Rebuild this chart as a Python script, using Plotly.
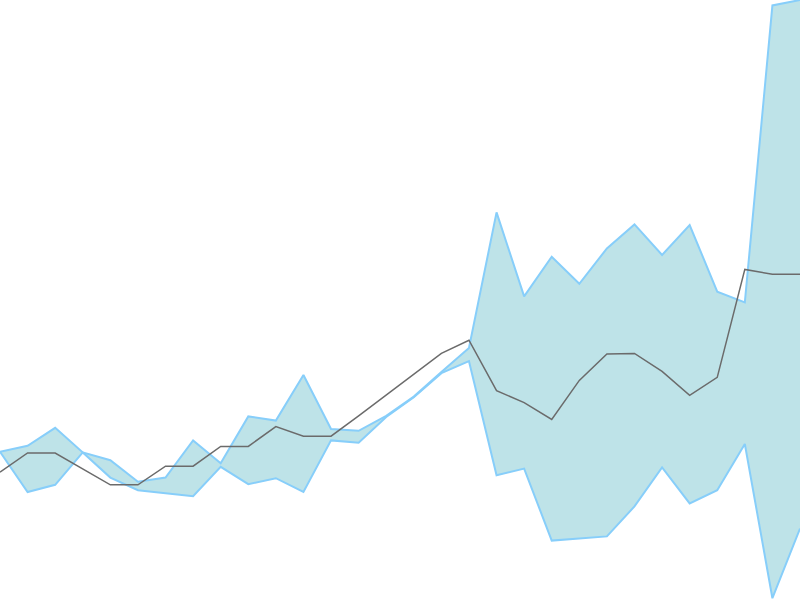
import plotly.graph_objects as go

# 30 periods, band bounds plus the central estimate
periods = list(range(30))

upper = [24.7, 25.7, 28.7, 24.6, 23.3, 19.7, 20.4, 26.6, 22.8, 30.6,
         29.9, 37.5, 28.5, 28.2, 30.7, 33.9, 38.0, 42.0, 64.6, 50.6,
         57.2, 52.7, 58.6, 62.6, 57.5, 62.5, 51.4, 49.6, 99.1, 100.0]

lower = [24.7, 18.0, 19.2, 24.6, 20.4, 18.3, 17.8, 17.3, 22.2, 19.3,
         20.3, 18.0, 26.6, 26.2, 30.5, 33.8, 37.8, 39.8, 20.8, 21.9,
         9.9, 10.2, 10.6, 15.6, 22.1, 16.1, 18.3, 26.0, 0.3, 11.9]

middle = [21.3, 24.5, 24.5, 21.8, 19.2, 19.2, 22.3, 22.3, 25.6, 25.6,
          28.9, 27.3, 27.3, 30.7, 34.2, 37.6, 41.1, 43.3, 34.9, 32.9,
          30.1, 36.6, 41.0, 41.1, 38.1, 34.1, 37.1, 55.1, 54.3, 54.3]

band_line = "#87CEFA"
band_fill = "#BEE3E8"

fig = go.Figure()

fig.add_trace(go.Scatter(
    x=periods, y=lower,
    mode="lines",
    line=dict(color=band_line, width=2),
    showlegend=False,
    hoverinfo="skip"
))

fig.add_trace(go.Scatter(
    x=periods, y=upper,
    mode="lines",
    line=dict(color=band_line, width=2),
    fill="tonexty",
    fillcolor=band_fill,
    showlegend=False,
    hoverinfo="skip"
))

fig.add_trace(go.Scatter(
    x=periods, y=middle,
    mode="lines",
    line=dict(color="#6b6b6b", width=1.5),
    showlegend=False
))

fig.update_layout(
    width=800,
    height=600,
    margin=dict(l=0, r=0, t=0, b=0),
    paper_bgcolor="white",
    plot_bgcolor="white",
    xaxis=dict(visible=False, range=[0, 29]),
    yaxis=dict(visible=False, range=[0, 100]),
)

# drop the page's default body margin so the plot sits flush in the window
fig.write_html(
    "out.html",
    config={"displayModeBar": False},
    post_script="document.body.style.margin='0';document.body.style.overflow='hidden';"
)
